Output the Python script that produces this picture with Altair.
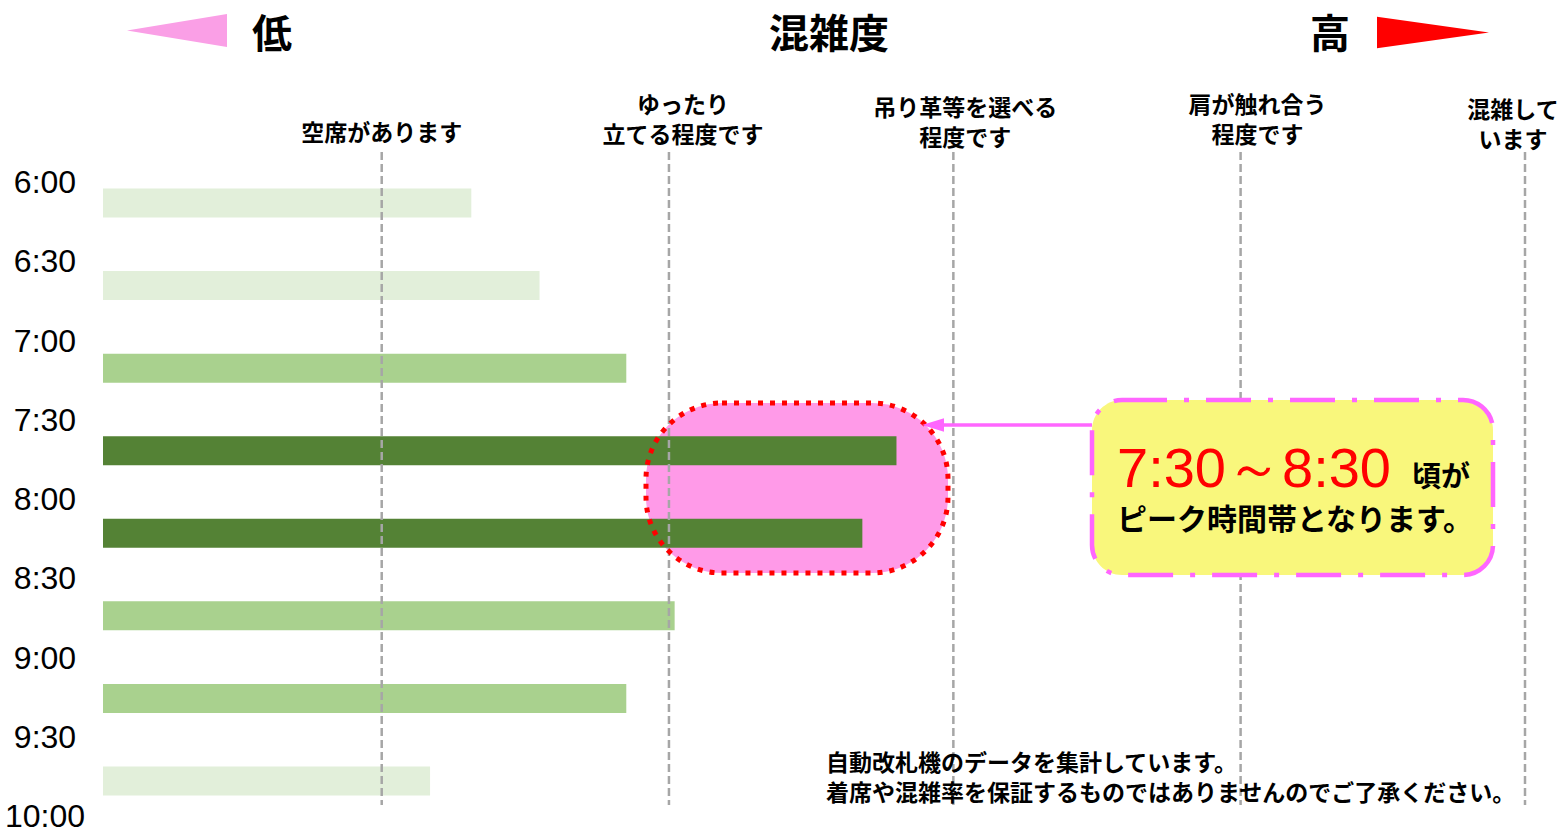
import altair as alt
import pandas as pd

# ---------------- data ----------------
bar_times = ["6:00", "6:30", "7:00", "7:30", "8:00", "8:30", "9:00", "9:30"]
congestion = [25.9, 30.7, 36.8, 55.8, 53.4, 40.2, 36.8, 23.0]
crowd_class = ["少", "少", "中", "多", "多", "中", "中", "少"]
class_names = ["少", "中", "多"]
class_colors = ["#E2EFDA", "#A9D18E", "#548235"]

tick_labels = ["6:00", "6:30", "7:00", "7:30", "8:00", "8:30", "9:00", "9:30", "10:00"]

level_values = [19.6, 39.8, 59.8, 80.0, 100.0]
level_labels = ["空席があります", "ゆったり\n立てる程度です", "吊り革等を選べる\n程度です",
                "肩が触れ合う\n程度です", "混雑して\nいます"]

header_labels = ["低", "混雑度", "高"]
peak_range = "7:30～8:30"
peak_suffix = "頃が"
peak_line2 = "ピーク時間帯となります。"
footnote = "自動改札機のデータを集計しています。\n着席や混雑率を保証するものではありませんのでご了承ください。"

# ---------------- tables ----------------
bar_df = pd.DataFrame({"time": bar_times, "value": congestion, "cls": crowd_class})
tick_df = pd.DataFrame({
    "label": tick_labels,
    "minutes": [int(t.split(":")[0]) * 60 + int(t.split(":")[1]) for t in tick_labels],
})
level_df = pd.DataFrame({"value": level_values, "label": level_labels})
dummy = pd.DataFrame({"d": [0]})

JP = "Noto Sans CJK JP"
xscale = alt.Scale(domain=[0, 100], range=[103, 1525])

# ---------------- layers ----------------
peak_fill = alt.Chart(dummy).mark_rect(cornerRadius=76, fill="#FF9AE8", strokeWidth=0).encode(
    x=alt.value(646), x2=alt.value(948), y=alt.value(403), y2=alt.value(573))

bars = alt.Chart(bar_df).mark_bar(opacity=1).encode(
    x=alt.X("value:Q", scale=xscale, axis=None),
    y=alt.Y("time:N", sort=bar_times, axis=None,
            scale=alt.Scale(range=[161.7, 822.3], paddingInner=0.649, paddingOuter=0.3245)),
    color=alt.Color("cls:N", scale=alt.Scale(domain=class_names, range=class_colors), legend=None),
)

rules = alt.Chart(level_df).mark_rule(color="#A6A6A6", strokeWidth=2.5, strokeDash=[8, 4]).encode(
    x=alt.X("value:Q", scale=xscale, axis=None), y=alt.value(152), y2=alt.value(805))

peak_outline = alt.Chart(dummy).mark_rect(
    cornerRadius=76, fill="white", fillOpacity=0, stroke="#FF0000", strokeWidth=5, strokeDash=[5, 7]
).encode(x=alt.value(646), x2=alt.value(948), y=alt.value(403), y2=alt.value(573))

arrow_line = alt.Chart(dummy).mark_rule(color="#FF66FF", strokeWidth=3.3).encode(
    x=alt.value(935), x2=alt.value(1092), y=alt.value(425))
arrow_head = alt.Chart(dummy).mark_point(
    shape="M-1,0 L1,-0.62 L1,0.62 Z", size=484, filled=True, fill="#FF66FF", opacity=1, strokeWidth=0
).encode(x=alt.value(933), y=alt.value(425))

yellow_box = alt.Chart(dummy).mark_rect(
    cornerRadius=30, fill="#F9F77C", stroke="#FF66FF", strokeWidth=4.5, strokeDash=[45, 17, 5, 17]
).encode(x=alt.value(1092), x2=alt.value(1493), y=alt.value(400), y2=alt.value(575))

tri_low = alt.Chart(dummy).mark_point(
    shape="M-1,0 L1,-0.33 L1,0.33 Z", size=10000, filled=True, fill="#FA9FE6", opacity=1, strokeWidth=0
).encode(x=alt.value(177), y=alt.value(30.5))
tri_high = alt.Chart(dummy).mark_point(
    shape="M-1,-0.28 L1,0 L-1,0.28 Z", size=12544, filled=True, fill="#FF0000", opacity=1, strokeWidth=0
).encode(x=alt.value(1433), y=alt.value(32.5))


def txt(s, x, y, size, color="black", weight="bold", font=JP, align="center", baseline="middle", **kw):
    return alt.Chart(dummy).mark_text(
        text=s, fontSize=size, color=color, fontWeight=weight, font=font,
        align=align, baseline=baseline, **kw
    ).encode(x=alt.value(x), y=alt.value(y))


header_x = [272, 829, 1330]
headers = [txt(h, hx, 36, 40) for h, hx in zip(header_labels, header_x)]

label_dx = [0, 14, 12, 17, -12]
label_dy = [0, -28, -25, -28, -23]
level_texts = []
for i in range(len(level_values)):
    level_texts.append(
        alt.Chart(level_df.iloc[[i]]).mark_text(
            font=JP, fontSize=23, fontWeight="bold", color="black", align="center",
            baseline="bottom", lineBreak="\n", lineHeight=30, dx=label_dx[i], dy=label_dy[i]
        ).encode(x=alt.X("value:Q", scale=xscale, axis=None), y=alt.value(146), text="label:N")
    )

time_texts = alt.Chart(tick_df).mark_text(
    font="Liberation Sans", fontSize=32, color="black", align="center", baseline="middle"
).encode(
    x=alt.value(45),
    y=alt.Y("minutes:Q", scale=alt.Scale(domain=[360, 600], range=[183, 817]), axis=None),
    text="label:N",
)

peak_texts = [
    txt(peak_range, 1117, 487, 56, color="#FF0000", weight="normal",
        font="Liberation Sans", align="left", baseline="alphabetic"),
    txt(peak_suffix, 1412, 478, 29, align="left"),
    txt(peak_line2, 1117, 521, 30, align="left"),
]

foot = txt(footnote, 826, 764, 23, align="left", lineBreak="\n", lineHeight=30)

chart = alt.layer(
    peak_fill, bars, rules, peak_outline, arrow_line, arrow_head, yellow_box,
    tri_low, tri_high, *headers, *level_texts, time_texts, *peak_texts, foot
).resolve_scale(y="independent").properties(
    width=1561, height=832, autosize=alt.AutoSizeParams(type="none"), padding=0,
    background="white"
).configure_view(strokeWidth=0)

chart.save("out.html", embed_options={"renderer": "svg", "actions": False})
